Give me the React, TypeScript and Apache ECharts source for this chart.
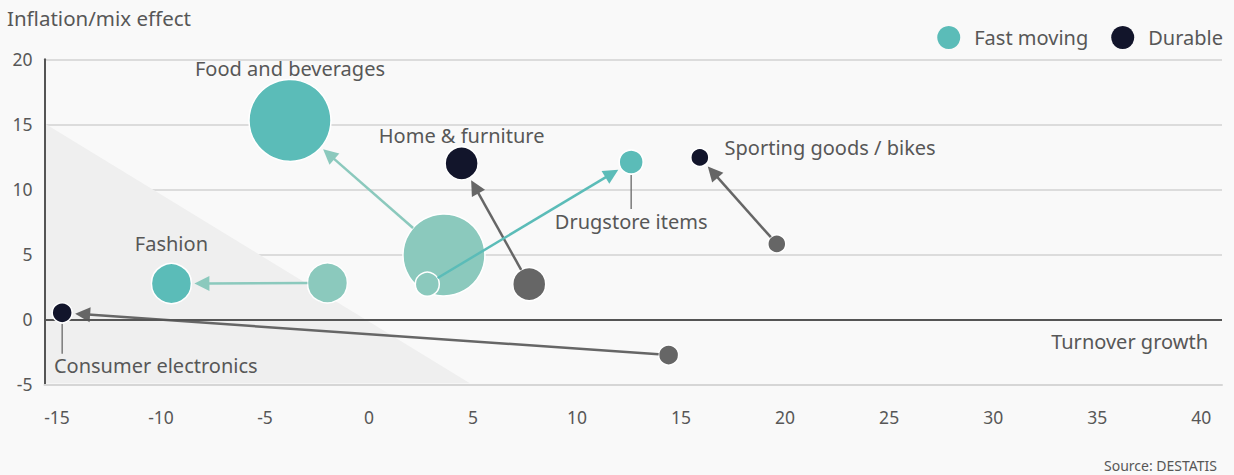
import React, { useEffect, useRef } from 'react';
import * as echarts from 'echarts';

// ---- data ----
const categories = ['Food and beverages', 'Home & furniture', 'Drugstore items', 'Sporting goods / bikes', 'Fashion', 'Consumer electronics'];
const segment = ['Fast moving', 'Durable', 'Fast moving', 'Durable', 'Fast moving', 'Durable'];
const fromGrowth = [3.6, 7.7, 2.8, 19.6, -2.0, 14.4];
const fromInflation = [4.95, 2.7, 2.7, 5.8, 2.8, -2.75];
const toGrowth = [-3.8, 4.45, 12.6, 15.9, -9.5, -14.75];
const toInflation = [15.3, 12.0, 12.1, 12.45, 2.75, 0.5];
const bubbleSize = [82, 33, 24, 18, 40, 20];
const xTicks = [-15, -10, -5, 0, 5, 10, 15, 20, 25, 30, 35, 40];
const yTicks = [-5, 0, 5, 10, 15, 20];
const shadeX = [-15.6, -15.6, 4.85];
const shadeY = [15, -5, -5];

// ---- styles ----
const TEXT = '#575757';
const FONT = '"Noto Sans", sans-serif';
const FS = 20;
const segColor: Record<string, string> = { 'Fast moving': '#5bbcb8', Durable: '#12152b' };
const originColor: Record<string, string> = { 'Fast moving': '#8bc9bd', Durable: '#666666' };
const arrowColor = ['#8bc9bd', '#666666', '#5bbcb8', '#666666', '#8bc9bd', '#666666'];
const labelPlacement: any[] = [
  { position: 'top', distance: 0 },
  { position: 'top', distance: 1 },
  { position: 'bottom', distance: 37 },
  { position: 'right', distance: 15, offset: [0, -10] },
  { position: 'top', distance: 9 },
  { position: [2.5, 63], align: 'left', verticalAlign: 'middle' },
];
const leaderLen: Record<number, number> = { 2: 35, 5: 31 };

export default function App() {
  const ref = useRef<HTMLDivElement>(null);
  useEffect(() => {
    document.body.style.margin = '0';
    document.body.style.background = '#f9f9f9';
    const chart = echarts.init(ref.current!, undefined, { renderer: 'svg' });

    const targetSeries = ['Fast moving', 'Durable'].map((seg) => ({
      name: seg,
      type: 'scatter',
      z: 5,
      itemStyle: { color: segColor[seg], borderColor: '#ffffff', borderWidth: 1.5, opacity: 1 },
      symbolSize: (v: number[]) => v[2],
      data: categories
        .map((c, i) => ({ c, i }))
        .filter(({ i }) => segment[i] === seg)
        .map(({ c, i }) => ({
          name: c,
          value: [toGrowth[i], toInflation[i], bubbleSize[i]],
          label: {
            show: true,
            formatter: c,
            color: TEXT,
            fontFamily: FONT,
            fontSize: FS,
            ...labelPlacement[i],
          },
        })),
    }));

    const option: any = {
      animation: false,
      backgroundColor: '#f9f9f9',
      textStyle: { fontFamily: FONT },
      title: [
        { text: 'Inflation/mix effect', left: 7, top: 7, padding: 0, textStyle: { color: TEXT, fontSize: 20.5, fontWeight: 'normal', fontFamily: FONT } },
        { text: 'Turnover growth', right: 26, top: 331, padding: 0, textStyle: { color: TEXT, fontSize: FS, fontWeight: 'normal', fontFamily: FONT } },
        { text: 'Source: DESTATIS', right: 17, top: 458, padding: 0, textStyle: { color: TEXT, fontSize: 14, fontWeight: 'normal', fontFamily: FONT } },
      ],
      legend: {
        data: ['Fast moving', 'Durable'],
        right: 11,
        top: 26,
        icon: 'circle',
        itemWidth: 23,
        itemHeight: 23,
        itemGap: 23,
        padding: 0,
        textStyle: { color: TEXT, fontSize: FS, fontFamily: FONT, padding: [0, 0, 0, 9] },
        itemStyle: { borderWidth: 0 },
      },
      grid: { left: 44.5, right: 12, top: 59.3, bottom: 90.7, containLabel: false },
      xAxis: {
        type: 'value',
        min: -15.6,
        max: 41,
        splitNumber: 11,
        axisLine: { show: true, onZero: false, lineStyle: { color: '#d6d6d6', width: 2 } },
        axisTick: { show: false },
        splitLine: { show: false },
        axisLabel: {
          customValues: xTicks,
          formatter: (v: number) => (xTicks.some((t) => Math.abs(t - v) < 1e-6) ? String(Math.round(v)) : ''),
          color: TEXT,
          fontSize: 17.5,
          fontFamily: FONT,
          margin: 24,
        },
      },
      yAxis: {
        type: 'value',
        min: yTicks[0],
        max: yTicks[yTicks.length - 1],
        interval: 5,
        axisLine: { show: true, onZero: false, lineStyle: { color: '#555555', width: 2 } },
        axisTick: { show: false },
        splitLine: { show: true, lineStyle: { color: '#dcdcdc', width: 2 } },
        axisLabel: { color: TEXT, fontSize: 17.5, fontFamily: FONT, margin: 12 },
      },
      series: [
        {
          type: 'custom',
          name: 'shade',
          silent: true,
          z: 2,
          data: [0],
          renderItem: (_p: any, api: any) => {
            const pts = shadeX.map((x, i) => api.coord([x, shadeY[i]]));
            pts[0][0] += 1.5;
            pts[1][0] += 1.5;
            pts[1][1] -= 1;
            pts[2][1] -= 1;
            return { type: 'polygon', shape: { points: pts }, style: { fill: '#efefef' } };
          },
          markLine: {
            silent: true,
            symbol: 'none',
            label: { show: false },
            lineStyle: { color: '#555555', width: 2, type: 'solid' },
            data: [{ yAxis: 0 }],
          },
        },
        {
          type: 'scatter',
          name: 'origin',
          z: 3,
          symbolSize: (v: number[]) => v[2],
          data: categories.map((c, i) => ({
            name: c,
            value: [fromGrowth[i], fromInflation[i], bubbleSize[i]],
            itemStyle: { color: originColor[segment[i]], borderColor: '#ffffff', borderWidth: 1.5, opacity: 1 },
          })),
        },
        {
          type: 'custom',
          name: 'arrows',
          silent: true,
          z: 4,
          encode: { x: [0, 2], y: [1, 3] },
          data: categories.map((_c, i) => [fromGrowth[i], fromInflation[i], toGrowth[i], toInflation[i], bubbleSize[i], i]),
          renderItem: (_p: any, api: any) => {
            const p0 = api.coord([api.value(0), api.value(1)]);
            const p1 = api.coord([api.value(2), api.value(3)]);
            const r = api.value(4) / 2;
            const idx = api.value(5);
            const dx = p1[0] - p0[0];
            const dy = p1[1] - p0[1];
            const len = Math.sqrt(dx * dx + dy * dy);
            const ux = dx / len;
            const uy = dy / len;
            const sx = p0[0] + ux * r;
            const sy = p0[1] + uy * r;
            const tx = p1[0] - ux * (r + 3);
            const ty = p1[1] - uy * (r + 3);
            const hl = 15;
            const hw = 7.5;
            const bx = tx - ux * hl;
            const by = ty - uy * hl;
            const color = arrowColor[idx];
            const children: any[] = [
              { type: 'line', shape: { x1: sx, y1: sy, x2: bx + ux * 2, y2: by + uy * 2 }, style: { stroke: color, lineWidth: 2.5 } },
              {
                type: 'polygon',
                shape: { points: [[tx, ty], [bx - uy * hw, by + ux * hw], [bx + uy * hw, by - ux * hw]] },
                style: { fill: color },
              },
            ];
            if (leaderLen[idx]) {
              children.push({
                type: 'line',
                shape: { x1: p1[0], y1: p1[1] + r + 1, x2: p1[0], y2: p1[1] + r + leaderLen[idx] },
                style: { stroke: '#7a7a7a', lineWidth: 1.5 },
              });
            }
            return { type: 'group', children };
          },
        },
        ...targetSeries,
      ],
    };
    chart.setOption(option);
    return () => chart.dispose();
  }, []);
  return <div ref={ref} style={{ width: 1234, height: 475 }} />;
}
